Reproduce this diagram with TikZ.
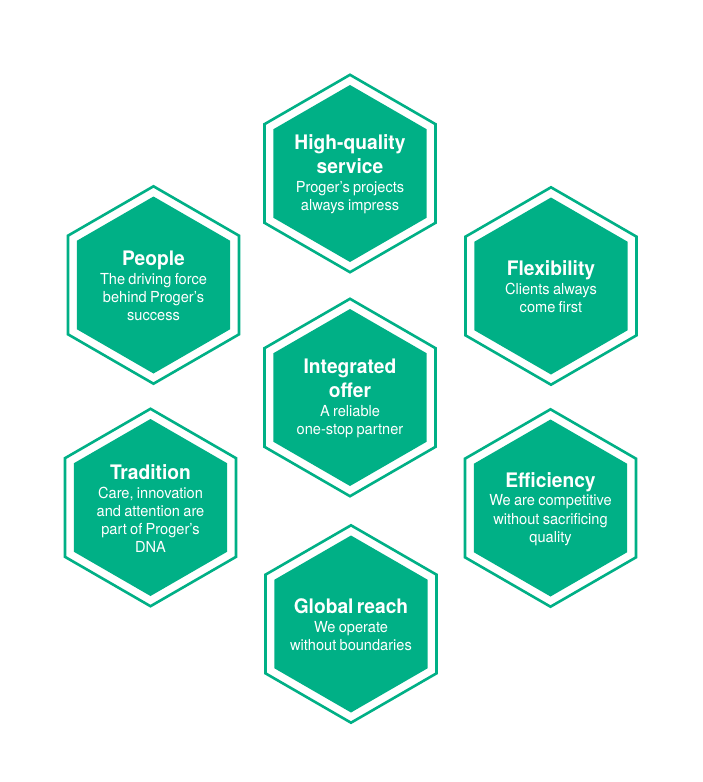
\documentclass[tikz,border=0pt]{standalone}
\usepackage{fontspec}
\setmainfont{TeX Gyre Heros}[FakeStretch=0.96]
\usetikzlibrary{shapes.geometric}
\definecolor{pgreen}{RGB}{0,176,134}
\tikzset{
  hexring/.style={regular polygon, regular polygon sides=6, shape border rotate=90,
    minimum size=197.4pt, inner sep=0pt, outer sep=0pt, draw=pgreen, line width=2.6pt},
  hexfill/.style={regular polygon, regular polygon sides=6, shape border rotate=90,
    minimum size=177pt, inner sep=0pt, outer sep=0pt, fill=pgreen},
  hextext/.style={text=white, align=center, text width=170pt, inner sep=0pt},
}
\newcommand{\hexttl}[1]{{\fontsize{20}{24}\selectfont\bfseries #1\par}\vspace{0.5pt}}
\newcommand{\hexbody}[1]{{\fontsize{15.2}{18.2}\selectfont #1\par}}
\begin{document}
\begin{tikzpicture}[x=1pt,y=-1pt]
  \fill[white] (0,0) rectangle (703,782);
  \useasboundingbox (0,0) rectangle (703,782);
  \foreach \nm/\cx/\cy in {hq/350/173.5, people/153.5/285, flex/551/286, integ/350/397.5,
                           trad/150.5/507.5, eff/550.5/508, glob/351/624}{
    \node[hexring] (\nm-ring) at (\cx,\cy) {};
    \node[hexfill] (\nm-fill) at (\cx,\cy) {};
  }
  \begin{scope}[every node/.append style={yshift=-1pt}]
  \node[hextext] (hq-txt) at (hq-fill.center)
    {\hexttl{High-quality\\service}\hexbody{Proger’s projects\\always impress}};
  \node[hextext] (people-txt) at (people-fill.center)
    {\hexttl{People}\hexbody{The driving force\\behind Proger’s\\success}};
  \node[hextext] (flex-txt) at (flex-fill.center)
    {\hexttl{Flexibility}\hexbody{Clients always\\come first}};
  \node[hextext] (integ-txt) at (integ-fill.center)
    {\hexttl{Integrated\\offer}\hexbody{A reliable\\one-stop partner}};
  \node[hextext] (trad-txt) at (trad-fill.center)
    {\hexttl{Tradition}\hexbody{Care, innovation\\and attention are\\part of Proger’s\\DNA}};
  \node[hextext] (eff-txt) at (eff-fill.center)
    {\hexttl{Efficiency}\hexbody{We are competitive\\without sacrificing\\quality}};
  \node[hextext] (glob-txt) at (glob-fill.center)
    {\hexttl{Global reach}\hexbody{We operate\\without boundaries}};
  \end{scope}
\end{tikzpicture}
\end{document}
